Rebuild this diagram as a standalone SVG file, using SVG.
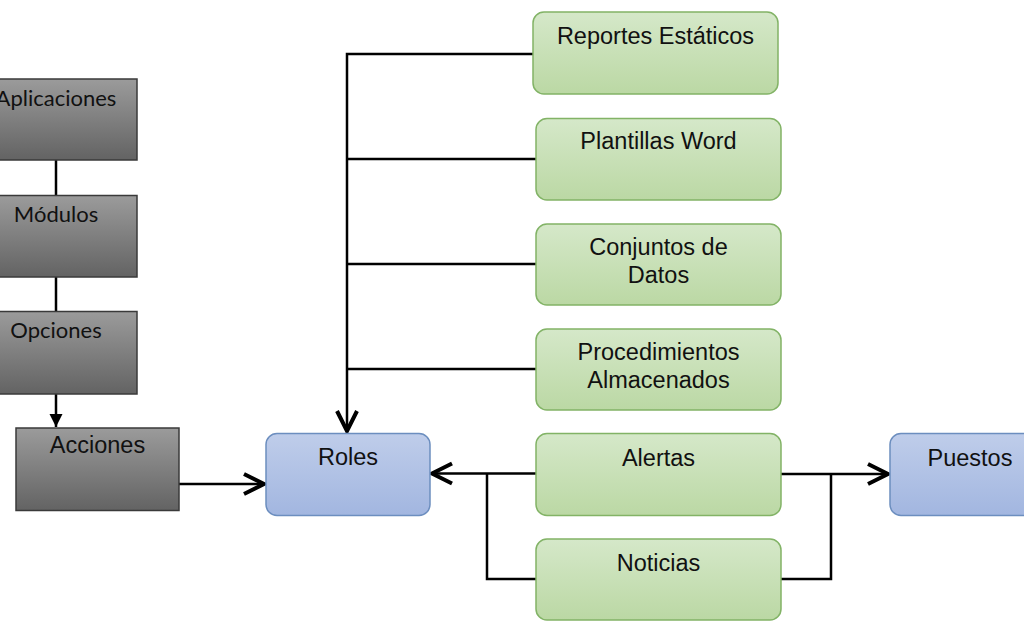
<svg xmlns="http://www.w3.org/2000/svg" width="1024" height="634" viewBox="0 0 1024 634">
<style>
.gray{stroke:#3a3a3a;stroke-width:1.5;fill:url(#gGray)}
.blue{stroke:#6c8ebf;stroke-width:1.5;fill:url(#gBlue)}
.green{stroke:#82b366;stroke-width:1.5;fill:url(#gGreen)}
.tg{font-family:Lato,"Open Sans",sans-serif;font-size:22px;fill:#111;text-anchor:middle}
.ta{font-family:"Liberation Sans",Arial,sans-serif;font-size:23.5px;fill:#111;text-anchor:middle}
.ln{stroke:#000;stroke-width:2.5;fill:none}
</style>
<defs>
<linearGradient id="gGray" x1="0" y1="0" x2="0" y2="1"><stop offset="0" stop-color="#9b9b9b"/><stop offset="1" stop-color="#636363"/></linearGradient>
<linearGradient id="gBlue" x1="0" y1="0" x2="0" y2="1"><stop offset="0" stop-color="#bfcdea"/><stop offset="1" stop-color="#a2b6e0"/></linearGradient>
<linearGradient id="gGreen" x1="0" y1="0" x2="0" y2="1"><stop offset="0" stop-color="#d5e8c9"/><stop offset="1" stop-color="#bbd8a4"/></linearGradient>
<marker id="chev" markerUnits="userSpaceOnUse" viewBox="-24 -12 26 24" refX="0" refY="0" markerWidth="26" markerHeight="24" orient="auto" overflow="visible">
<path d="M-20,-10 L0,0 L-20,10" fill="none" stroke="#000" stroke-width="4"/>
</marker>
<marker id="tri" markerUnits="userSpaceOnUse" viewBox="-14 -7 14 14" refX="0" refY="0" markerWidth="14" markerHeight="14" orient="auto" overflow="visible">
<path d="M-13,-6.5 L0,0 L-13,6.5 Z" fill="#000"/>
</marker>
</defs>
<g id="connectors">
<path class="ln" d="M56,160 V195"/>
<path class="ln" d="M56,277 V311"/>
<path class="ln" d="M56,394 V427" marker-end="url(#tri)"/>
<path class="ln" d="M179,484 H264" marker-end="url(#chev)"/>
<path class="ln" d="M533,54 H347 V431" marker-end="url(#chev)"/>
<path class="ln" d="M536,159 H347"/>
<path class="ln" d="M536,264 H347"/>
<path class="ln" d="M536,369 H347"/>
<path class="ln" d="M536,473.5 H432" marker-end="url(#chev)"/>
<path class="ln" d="M536,579 H487 V473.5"/>
<path class="ln" d="M781,474 H888" marker-end="url(#chev)"/>
<path class="ln" d="M781,579 H831 V474"/>
</g>
<g id="aplicaciones"><rect class="gray" x="-25" y="79" width="162" height="81"/><text class="tg" x="56" y="106">Aplicaciones</text></g>
<g id="modulos"><rect class="gray" x="-25" y="195.5" width="162" height="81.5"/><text class="tg" x="56" y="222">Módulos</text></g>
<g id="opciones"><rect class="gray" x="-25" y="311.5" width="162" height="82.5"/><text class="tg" x="56" y="338">Opciones</text></g>
<g id="acciones"><rect class="gray" x="16" y="428" width="163" height="82.5"/><text class="ta" x="97.5" y="453">Acciones</text></g>
<g id="roles"><rect class="blue" x="266" y="433.5" width="164" height="82" rx="11"/><text class="ta" x="348" y="465">Roles</text></g>
<g id="puestos"><rect class="blue" x="890" y="433.5" width="164" height="82" rx="11"/><text class="ta" x="970" y="466">Puestos</text></g>
<g id="reportes"><rect class="green" x="533" y="12" width="245" height="82" rx="11"/><text class="ta" x="655.5" y="44">Reportes Estáticos</text></g>
<g id="plantillas"><rect class="green" x="536" y="118.5" width="245" height="81.5" rx="11"/><text class="ta" x="658.5" y="149">Plantillas Word</text></g>
<g id="conjuntos"><rect class="green" x="536" y="224" width="245" height="81" rx="11"/><text class="ta" x="658.5" y="255">Conjuntos de</text><text class="ta" x="658.5" y="283">Datos</text></g>
<g id="procedimientos"><rect class="green" x="536" y="329" width="245" height="81" rx="11"/><text class="ta" x="658.5" y="360">Procedimientos</text><text class="ta" x="658.5" y="388">Almacenados</text></g>
<g id="alertas"><rect class="green" x="536" y="433.5" width="245" height="82" rx="11"/><text class="ta" x="658.5" y="466">Alertas</text></g>
<g id="noticias"><rect class="green" x="536" y="539" width="245" height="81" rx="11"/><text class="ta" x="658.5" y="571">Noticias</text></g>
</svg>
